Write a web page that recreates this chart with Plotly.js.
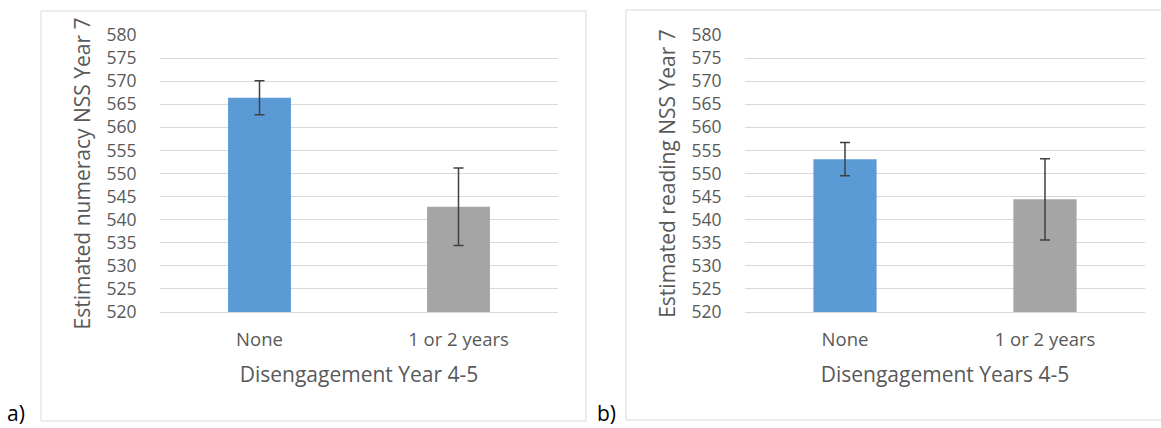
<!DOCTYPE html>
<html>
<head>
<meta charset="utf-8">
<script src="https://cdn.plot.ly/plotly-3.0.1.min.js"></script>
<style>html,body{margin:0;padding:0;background:#fff;}#chart{width:1161px;height:428px;}</style>
</head>
<body>
<div id="chart"></div>
<script>
const categories = ["None", "1 or 2 years"];
const barColors = ["#5B9BD5", "#A5A5A5"];
const numeracyValues = [566.4, 542.8];
const numeracyErrors = [3.7, 8.4];
const readingValues = [553.1, 544.4];
const readingErrors = [3.6, 8.8];
const yTickValues = [520, 525, 530, 535, 540, 545, 550, 555, 560, 565, 570, 575, 580];
const panelLabels = ["a)", "b)"];
const xTitles = ["Disengagement Year 4-5", "Disengagement Years 4-5"];
const yTitles = ["Estimated numeracy NSS Year 7", "Estimated reading NSS Year 7"];

const W = 1161, H = 428;
const FONT = "Open Sans, sans-serif";
const TXT = "#595959";

function bar(vals, errs, xa, ya) {
  return {
    type: "bar", x: categories, y: vals, xaxis: xa, yaxis: ya,
    width: 0.316,
    marker: { color: barColors, line: { width: 0 } },
    error_y: { type: "data", array: errs, visible: true, color: "#404040", thickness: 1.5, width: 5 },
    hoverinfo: "x+y", showlegend: false
  };
}

const traces = [
  bar(numeracyValues, numeracyErrors, "x", "y"),
  bar(readingValues, readingErrors, "x2", "y2")
];

function xax(domain, title) {
  return {
    domain: domain, type: "category",
    showgrid: false, zeroline: false, showline: true, linecolor: "#D9D9D9", linewidth: 1,
    ticks: "outside", ticklen: 11, tickcolor: "rgba(0,0,0,0)",
    tickfont: { family: FONT, size: 18.5, color: TXT },
    title: { text: title, font: { family: FONT, size: 21, color: TXT }, standoff: 17 },
    fixedrange: true
  };
}
function yax(domain, title, anchor) {
  return {
    domain: domain, anchor: anchor, range: [520, 580],
    tickvals: yTickValues, ticktext: yTickValues.map(String),
    showgrid: true, gridcolor: "#D9D9D9", gridwidth: 1, zeroline: false, showline: false,
    ticks: "outside", ticklen: 19, tickcolor: "rgba(0,0,0,0)",
    tickfont: { family: FONT, size: 17.5, color: TXT },
    title: { text: title, font: { family: FONT, size: 21, color: TXT }, standoff: 10 },
    fixedrange: true
  };
}

const yDom = [(H - 312) / H, (H - 35) / H];
const layout = {
  width: W, height: H,
  margin: { l: 0, r: 0, t: 0, b: 0 },
  paper_bgcolor: "#ffffff", plot_bgcolor: "#ffffff",
  bargap: 0.68,
  xaxis: Object.assign(xax([160 / W, 558 / W], xTitles[0]), { anchor: "y" }),
  yaxis: yax(yDom, yTitles[0], "x"),
  xaxis2: Object.assign(xax([745 / W, 1145 / W], xTitles[1]), { anchor: "y2" }),
  yaxis2: yax(yDom, yTitles[1], "x2"),
  shapes: [
    { type: "rect", xref: "paper", yref: "paper", x0: 41 / W, x1: 586 / W, y0: 7 / H, y1: 417 / H,
      line: { color: "#D9D9D9", width: 1 }, fillcolor: "rgba(0,0,0,0)", layer: "below" },
    { type: "rect", xref: "paper", yref: "paper", x0: 626 / W, x1: 1.02, y0: 8 / H, y1: 418 / H,
      line: { color: "#D9D9D9", width: 1 }, fillcolor: "rgba(0,0,0,0)", layer: "below" }
  ],
  annotations: [
    { text: panelLabels[0], xref: "paper", yref: "paper", x: 16 / W, y: (H - 413) / H,
      xanchor: "center", yanchor: "middle", showarrow: false, font: { family: FONT, size: 21, color: "#000" } },
    { text: panelLabels[1], xref: "paper", yref: "paper", x: 606 / W, y: (H - 413) / H,
      xanchor: "center", yanchor: "middle", showarrow: false, font: { family: FONT, size: 21, color: "#000" } }
  ]
};

Plotly.newPlot("chart", traces, layout, { displayModeBar: false, staticPlot: true });
</script>
</body>
</html>
